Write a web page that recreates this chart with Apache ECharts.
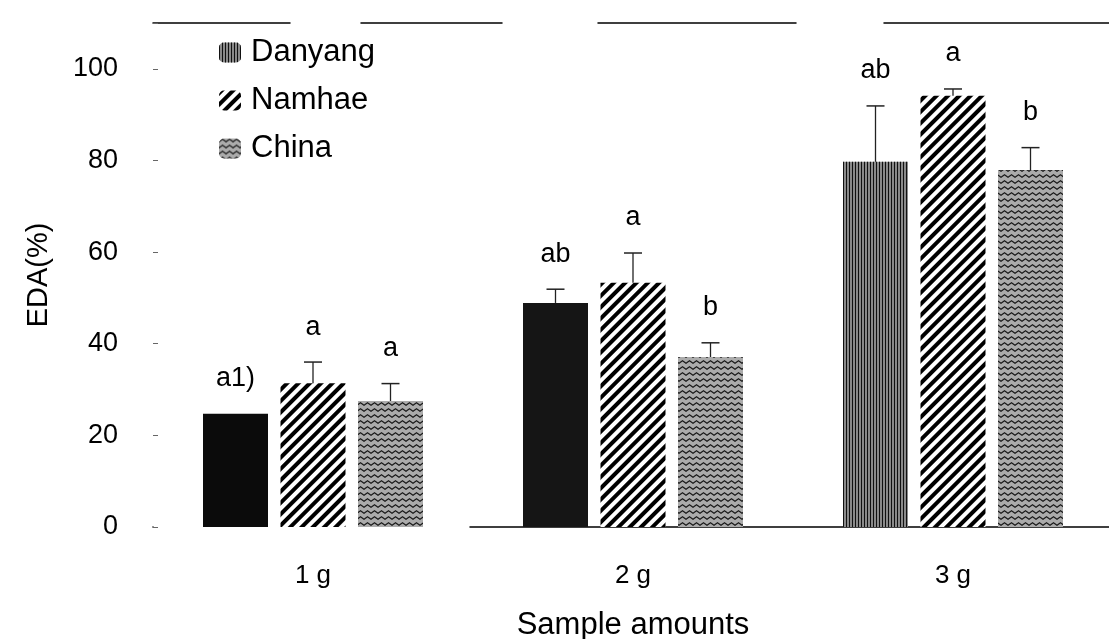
<!DOCTYPE html>
<html><head><meta charset="utf-8">
<script src="https://cdn.jsdelivr.net/npm/echarts@6/dist/echarts.min.js"></script>
<style>html,body{margin:0;padding:0;background:#fff}#c{width:1109px;height:639px}</style>
</head><body><div id="c"></div>
<script>
// ---- data ----
const categories = ['1 g', '2 g', '3 g'];
const seriesNames = ['Danyang', 'Namhae', 'China'];
const danyang = [24.7, 48.9, 79.7];
const namhae = [31.4, 53.3, 94.1];
const china = [27.5, 37.1, 77.9];
const danyangErr = [0, 3.0, 12.2];
const namhaeErr = [4.6, 6.5, 1.5];
const chinaErr = [3.8, 3.1, 4.9];
const danyangSig = ['a1)', 'ab', 'ab'];
const namhaeSig = ['a', 'a', 'a'];
const chinaSig = ['a', 'b', 'b'];
const yTickLabels = [0, 20, 40, 60, 80, 100];

// ---- layout / style constants ----
const FONT = 'Liberation Sans, Arial, Helvetica, sans-serif';
const BAR_W = 65, GAP_PX = 12.5;
const values = [danyang, namhae, china];
const errs = [danyangErr, namhaeErr, chinaErr];
const sigs = [danyangSig, namhaeSig, chinaSig];

const stripesDanyang = { color: '#111', dashArrayX: [1, 2], dashArrayY: [1, 0], symbol: 'rect', symbolSize: 1, rotation: 0 };
const stripesNamhae = { color: '#000', dashArrayX: [1, 0], dashArrayY: [3.2, 3.3], symbol: 'rect', symbolSize: 1, rotation: -Math.PI / 4 };
const wavesChina = {
  color: '#1a1a1a', symbol: 'path://M0,3 L3.5,0 L7,3 L7,4.6 L3.5,1.6 L0,4.6 Z',
  symbolKeepAspect: false, symbolSize: 1, dashArrayX: [7, 0], dashArrayY: [4, 1.3], rotation: 0
};
const noDecal = { color: 'rgba(0,0,0,0)', symbol: 'rect', dashArrayX: [1, 0], dashArrayY: [1, 0] };
const danyangItemStyle = [
  { color: '#0b0b0b', decal: noDecal },
  { color: '#151515', decal: noDecal },
  null
];

const chart = echarts.init(document.getElementById('c'), null, { renderer: 'canvas' });

function errSeries(k) {
  return {
    type: 'custom',
    name: seriesNames[k] + '_err',
    z: 5,
    silent: true,
    data: categories.map((c, i) => [i, values[k][i], errs[k][i]]),
    renderItem: function (params, api) {
      const i = api.value(0), v = api.value(1), e = api.value(2);
      const off = (k - 1) * (BAR_W + GAP_PX);
      const base = api.coord([i, v]);
      const x = base[0] + off;
      const yBar = base[1];
      const yTop = api.coord([i, v + e])[1];
      const children = [];
      if (e > 0) {
        children.push({ type: 'line', shape: { x1: x, y1: yBar, x2: x, y2: yTop }, style: { stroke: '#222', lineWidth: 1.3 } });
        children.push({ type: 'line', shape: { x1: x - 9, y1: yTop, x2: x + 9, y2: yTop }, style: { stroke: '#222', lineWidth: 1.5 } });
      }
      children.push({
        type: 'text',
        style: { text: sigs[k][params.dataIndex], x: x, y: yTop - 35, align: 'center', verticalAlign: 'middle', fill: '#000', font: '27px ' + FONT }
      });
      return { type: 'group', children: children };
    }
  };
}

const option = {
  animation: false,
  backgroundColor: '#fff',
  textStyle: { fontFamily: FONT, color: '#000' },
  grid: { left: 153, right: -4, top: 23, bottom: 112, containLabel: false, outerBoundsMode: 'none' },
  legend: {
    data: seriesNames,
    orient: 'vertical',
    left: 219, top: 37,
    itemWidth: 22, itemHeight: 20, itemGap: 17,
    padding: 0,
    textStyle: { fontSize: 31, fontFamily: FONT, color: '#000', padding: [0, 0, 0, 5] },
    selectedMode: false
  },
  xAxis: [{
    type: 'category',
    data: categories,
    position: 'bottom',
    axisLine: { show: true, lineStyle: { color: '#000', width: 1.5, type: [0, 317, 2000] } },
    axisTick: { show: false },
    axisLabel: { fontSize: 26, color: '#000', fontFamily: FONT, margin: 36 },
    name: 'Sample amounts',
    nameLocation: 'middle',
    nameGap: 83,
    nameTextStyle: { fontSize: 31, color: '#000', fontFamily: FONT }
  }, {
    type: 'category',
    data: categories,
    position: 'top',
    axisLine: { show: true, lineStyle: { color: '#000', width: 1.5, type: [137, 71, 141, 96, 198, 88, 300, 10] } },
    axisTick: { show: false },
    axisLabel: { show: false }
  }],
  yAxis: {
    type: 'value',
    min: 0, max: 110, interval: 20,
    axisLine: { show: false },
    splitLine: { show: false },
    axisTick: { show: true, inside: true, length: 5, lineStyle: { color: '#666', width: 1 } },
    axisLabel: {
      fontSize: 27, color: '#000', fontFamily: FONT, margin: 35,
      formatter: v => (yTickLabels.indexOf(v) >= 0 ? String(v) : '')
    },
    name: 'EDA(%)',
    nameLocation: 'middle',
    nameGap: 100,
    nameRotate: 90,
    nameTextStyle: { fontSize: 29, color: '#000', fontFamily: FONT }
  },
  series: [
    {
      type: 'bar', name: 'Danyang', barWidth: BAR_W, barGap: (GAP_PX / BAR_W * 100) + '%',
      itemStyle: { color: '#8a8a8a', decal: stripesDanyang },
      data: danyang.map((v, i) => danyangItemStyle[i] ? { value: v, itemStyle: danyangItemStyle[i] } : v)
    },
    {
      type: 'bar', name: 'Namhae', barWidth: BAR_W,
      itemStyle: { color: '#ffffff', decal: stripesNamhae },
      data: namhae
    },
    {
      type: 'bar', name: 'China', barWidth: BAR_W,
      itemStyle: { color: '#ababab', decal: wavesChina },
      data: china
    },
    errSeries(0), errSeries(1), errSeries(2)
  ]
};
chart.setOption(option);
</script>
</body></html>
